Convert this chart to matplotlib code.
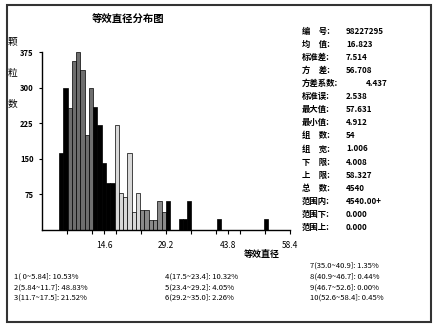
import numpy as np
import matplotlib
matplotlib.use("Agg")
import matplotlib.pyplot as plt
from matplotlib.patches import Rectangle

plt.rcParams['font.family'] = ['Noto Sans CJK SC', 'DejaVu Sans']

# histogram data (54 groups, lower limit 4.008, width 1.006)
lower_limit = 4.008
group_width = 1.006
counts = [163, 300, 258, 355, 376, 338, 200, 300, 260, 222,
          141, 99, 99, 222, 78, 70, 163, 38, 78, 42,
          42, 21, 21, 61, 38, 61, 0, 0, 23, 23,
          61, 0, 0, 0, 0, 0, 0, 23, 0, 0,
          0, 0, 0, 0, 0, 0, 0, 0, 23, 0,
          0, 0, 0, 0]

# ten summary intervals
interval_edges = [0, 5.84, 11.68, 17.52, 23.36, 29.2, 35.04, 40.88, 46.72, 52.56, 58.4]
interval_text = ["1( 0~5.84]: 10.53%", "2(5.84~11.7]: 48.83%", "3(11.7~17.5]: 21.52%",
                 "4(17.5~23.4]: 10.32%", "5(23.4~29.2]: 4.05%", "6(29.2~35.0]: 2.26%",
                 "7(35.0~40.9]: 1.35%", "8(40.9~46.7]: 0.44%", "9(46.7~52.6]: 0.00%",
                 "10(52.6~58.4]: 0.45%"]

xtick_labels = [14.6, 29.2, 43.8, 58.4]
ytick_values = [75, 150, 225, 300, 375]

stat_names = ["编　号:", "均　值:", "标准差:", "方　差:", "方差系数:", "标准误:",
              "最大值:", "最小值:", "组　数:", "组　宽:", "下　限:", "上　限:",
              "总　数:", "范围内:", "范围下:", "范围上:"]
stat_values = ["98227295", "16.823", "7.514", "56.708", "4.437", "2.538",
               "57.631", "4.912", "54", "1.006", "4.008", "58.327",
               "4540", "4540.00+", "0.000", "0.000"]

W, H = 437, 325
fig = plt.figure(figsize=(W / 100, H / 100), dpi=100)

def fx(x):
    return x / W

def fy(y):
    return 1 - y / H

ax = fig.add_axes([fx(42), fy(230), (290 - 42) / W, (230 - 52) / H])

interval_fill = ['black', '#6e6e6e', 'black', '#d8d8d8', '#8a8a8a',
                 'black', 'black', 'black', '#8a8a8a', 'black']
lefts = lower_limit + group_width * np.arange(len(counts))
centers = lefts + group_width / 2
idx = np.clip(np.searchsorted(interval_edges, centers) - 1, 0, 9)
colors = [interval_fill[i] for i in idx]
ax.bar(lefts, counts, width=group_width, align='edge', color=colors,
       edgecolor='black', linewidth=0.5)

ax.set_xlim(0, 58.4)
ax.set_ylim(0, 375)
for s in ['top', 'right']:
    ax.spines[s].set_visible(False)
ax.spines['left'].set_linewidth(1.0)
ax.spines['bottom'].set_linewidth(1.0)

ax.set_xticks(interval_edges[1:], minor=True)
ax.set_xticks(xtick_labels)
ax.set_xticklabels([f"{v:.1f}" for v in xtick_labels], fontsize=6)
ax.tick_params(axis='x', which='both', direction='out', length=3, width=0.8, pad=5)
ax.set_yticks(ytick_values)
ax.set_yticklabels([str(v) for v in ytick_values], fontsize=5.5, fontweight='bold')
ax.tick_params(axis='y', direction='out', length=2, width=0.8, pad=4)

fig.text(fx(128), fy(20), "等效直径分布图", fontsize=7.5, ha='center', va='center', fontweight='bold')
for ch, y in zip("颗粒数", [42, 73, 104]):
    fig.text(fx(13), fy(y), ch, fontsize=7, ha='center', va='center')
fig.text(fx(262), fy(255), "等效直径", fontsize=6.5, ha='center', va='center', fontweight='bold')

for i, (n, v) in enumerate(zip(stat_names, stat_values)):
    y = 31 + 13.1 * i
    vx = 366 if len(n) > 4 else 346
    fig.text(fx(302), fy(y), n, fontsize=6, ha='left', va='center', fontweight='bold')
    fig.text(fx(vx), fy(y), v, fontsize=5.8, ha='left', va='center', fontweight='bold')

col_pos = [(14, [277, 288, 298]), (165, [277, 288, 298]), (310, [266, 277, 288, 298])]
k = 0
for x, ys in col_pos:
    for y in ys:
        fig.text(fx(x), fy(y), interval_text[k], fontsize=5.5, ha='left', va='center')
        k += 1

fig.add_artist(Rectangle((fx(7), fy(322)), fx(431) - fx(7), fy(5) - fy(322),
                         transform=fig.transFigure, fill=False, linewidth=1.5,
                         edgecolor='#333333'))

fig.savefig("out.png", dpi=100)
